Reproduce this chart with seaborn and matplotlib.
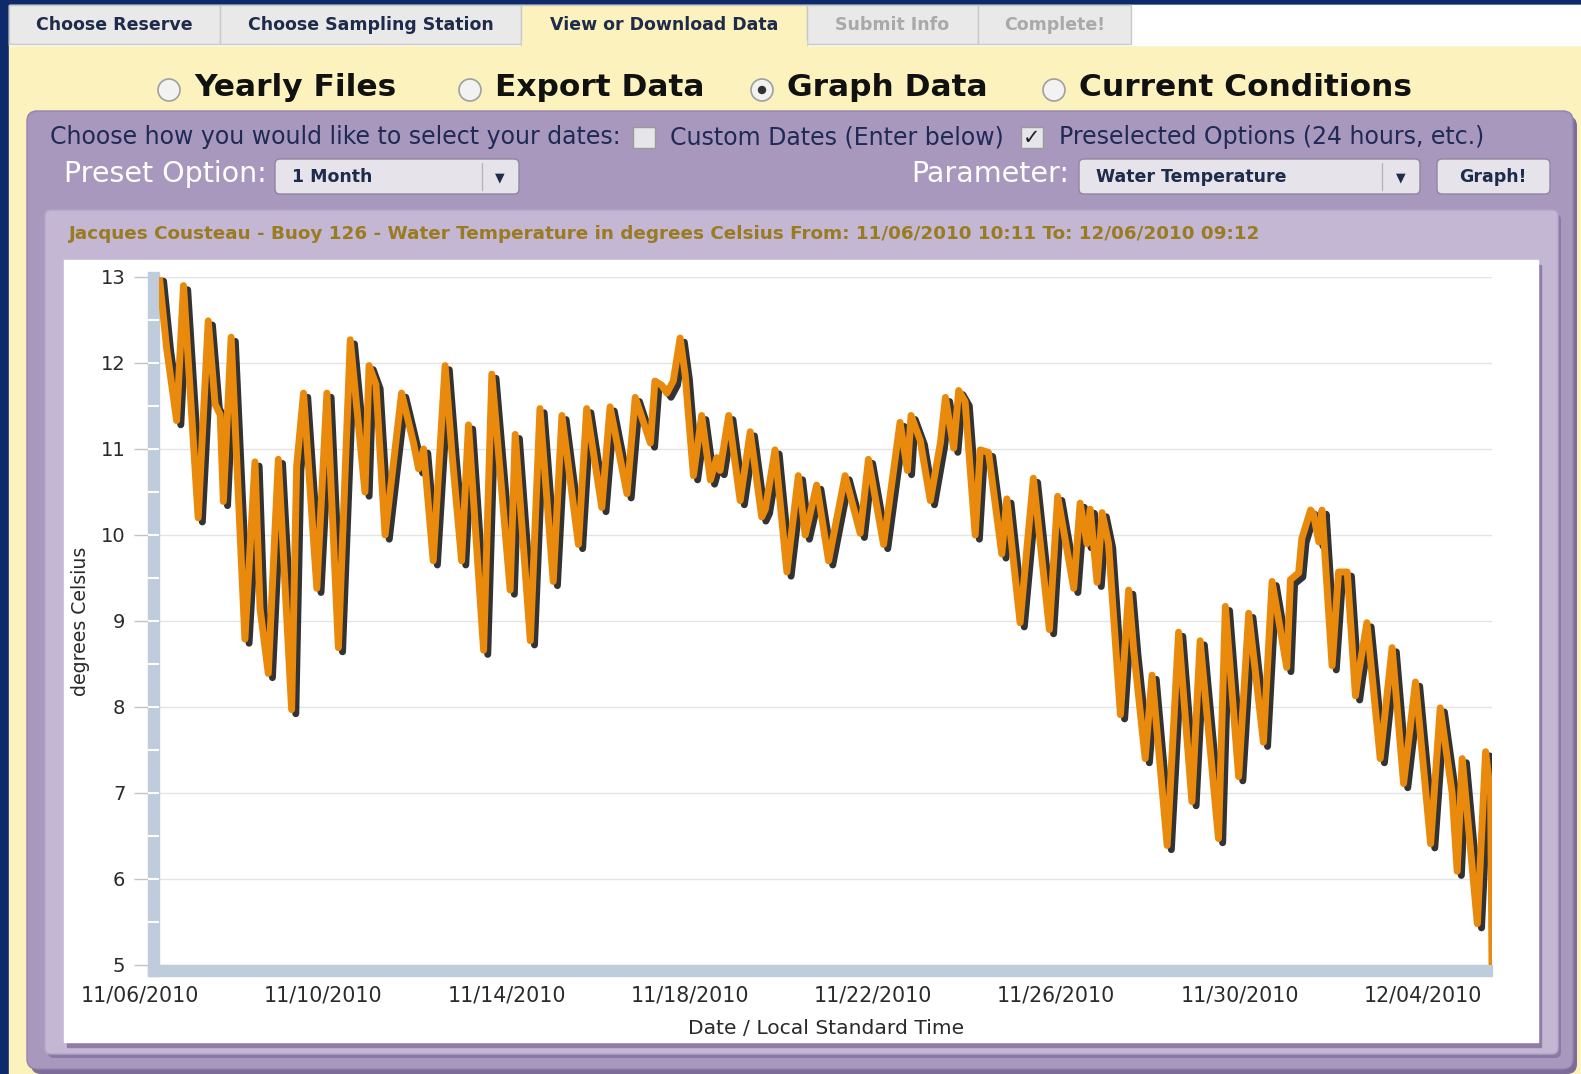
import pandas as pd
import matplotlib
matplotlib.use("Agg")
import matplotlib.pyplot as plt
import matplotlib.dates as mdates
import matplotlib.patheffects as pe
from matplotlib.patches import Rectangle, FancyBboxPatch, Circle
import seaborn as sns

# Water temperature: days after 11/06/2010 00:00, degrees C
day_offset = [
    0.424, 0.58, 0.80, 0.95, 1.27, 1.49, 1.64, 1.75, 1.82, 1.99,
    2.29, 2.51, 2.62, 2.80, 3.02, 3.31, 3.42, 3.57, 3.86, 4.08,
    4.33, 4.59, 4.91, 5.00, 5.15, 5.35, 5.71, 5.97, 6.08, 6.19,
    6.40, 6.66, 6.81, 7.02, 7.17, 7.50, 7.68, 8.08, 8.19, 8.52,
    8.73, 9.02, 9.21, 9.57, 9.75, 10.08, 10.26, 10.63, 10.81, 11.14,
    11.24, 11.39, 11.50, 11.64, 11.79, 11.90, 12.08, 12.26, 12.45, 12.59,
    12.66, 12.85, 13.10, 13.32, 13.57, 13.65, 13.86, 14.12, 14.37, 14.52,
    14.77, 15.03, 15.39, 15.72, 15.90, 16.23, 16.59, 16.75, 16.83, 17.03,
    17.25, 17.47, 17.58, 17.76, 17.87, 18.01, 18.23, 18.34, 18.52, 18.81,
    18.92, 19.21, 19.50, 19.85, 20.03, 20.38, 20.52, 20.67, 20.74, 20.89,
    21.00, 21.14, 21.40, 21.58, 21.69, 21.94, 22.09, 22.42, 22.67, 22.96,
    23.14, 23.54, 23.69, 23.98, 24.20, 24.52, 24.71, 25.03, 25.11, 25.29,
    25.36, 25.55, 25.61, 25.73, 25.80, 26.02, 26.16, 26.35, 26.53, 26.60,
    26.78, 27.07, 27.33, 27.58, 27.84, 28.17, 28.38, 28.64, 28.75, 28.86,
    29.19, 29.37, 29.48, 29.51,
]
temp_c = [
    13.00, 12.18, 11.33, 12.90, 10.20, 12.49, 11.52, 11.40, 10.39, 12.30,
    8.79, 10.85, 9.15, 8.39, 10.88, 7.97, 10.80, 11.65, 9.38, 11.65,
    8.69, 12.27, 10.50, 11.97, 11.75, 10.00, 11.65, 11.07, 10.77, 11.00,
    9.70, 11.97, 10.95, 9.70, 11.28, 8.66, 11.87, 9.36, 11.17, 8.77,
    11.47, 9.46, 11.39, 9.89, 11.47, 10.32, 11.49, 10.48, 11.60, 11.07,
    11.79, 11.74, 11.65, 11.79, 12.29, 11.86, 10.69, 11.39, 10.64, 10.90,
    10.75, 11.39, 10.40, 11.20, 10.21, 10.30, 10.99, 9.57, 10.69, 10.00,
    10.58, 9.70, 10.69, 10.02, 10.88, 9.89, 11.31, 10.75, 11.39, 11.10,
    10.40, 11.07, 11.60, 11.01, 11.68, 11.55, 10.00, 10.99, 10.96, 9.78,
    10.42, 8.98, 10.66, 8.90, 10.45, 9.38, 10.37, 9.90, 10.30, 9.45,
    10.26, 9.90, 7.91, 9.36, 8.66, 7.40, 8.37, 6.39, 8.87, 6.90,
    8.77, 6.47, 9.17, 7.19, 9.09, 7.59, 9.46, 8.46, 9.48, 9.56,
    9.96, 10.29, 10.25, 9.92, 10.29, 8.48, 9.57, 9.57, 8.13, 8.40,
    8.98, 7.40, 8.69, 7.11, 8.29, 6.41, 7.99, 7.00, 6.09, 7.40,
    5.48, 7.48, 6.98, 5.00,
]

x_tick_dates = ["2010-11-06", "2010-11-10", "2010-11-14", "2010-11-18",
                "2010-11-22", "2010-11-26", "2010-11-30", "2010-12-04"]
y_ticks = [5, 6, 7, 8, 9, 10, 11, 12, 13]

tab_labels = ["Choose Reserve", "Choose Sampling Station", "View or Download Data",
              "Submit Info", "Complete!"]
radio_labels = ["Yearly Files", "Export Data", "Graph Data", "Current Conditions"]
chart_title = ("Jacques Cousteau - Buoy 126 - Water Temperature in degrees Celsius "
               "From: 11/06/2010 10:11 To: 12/06/2010 09:12")

start = pd.Timestamp("2010-11-06 00:00")
df = pd.DataFrame({"time": start + pd.to_timedelta(day_offset, unit="D"),
                   "temp": temp_c})

sns.set_style("white")
plt.rcParams["font.family"] = ["DejaVu Sans"]

W, H = 1581, 1074
navy = "#0D2B6B"
yellow = "#FBF2BE"
dark_text = "#1E2B4A"
axis_text = "#2A2A2A"

fig = plt.figure(figsize=(W / 100, H / 100), dpi=100, facecolor=navy)

# --- page chrome drawn in pixel coordinates ---
ui = fig.add_axes([0, 0, 1, 1])
ui.set_xlim(0, W)
ui.set_ylim(H, 0)
ui.axis("off")

ui.add_patch(Rectangle((9, 5), W - 9, H - 5, color=yellow))
ui.add_patch(Rectangle((9, 5), W - 9, 40, color="white"))

tab_edges = [9, 220, 521, 807, 978, 1131]
for i, lab in enumerate(tab_labels):
    x0, x1 = tab_edges[i], tab_edges[i + 1]
    face = yellow if i == 2 else "#E9E9E9"
    ui.add_patch(Rectangle((x0, 5), x1 - x0, 40 if i == 2 else 39,
                           facecolor=face, edgecolor="#C9C9C9", lw=1))
    ui.text((x0 + x1) / 2, 25, lab, ha="center", va="center", fontsize=12.5,
            fontweight="bold", color="#A9A9A9" if i >= 3 else dark_text)
ui.add_patch(Rectangle((522, 40), 284, 8, color=yellow))

radio_x = [169, 470, 762, 1054]
for i, (cx, lab) in enumerate(zip(radio_x, radio_labels)):
    ui.add_patch(Circle((cx, 90), 11, facecolor="#F2F2F2", edgecolor="#A0A0A0", lw=1.2))
    if i == 2:
        ui.add_patch(Circle((cx, 90), 3.5, color="#333333"))
    ui.text(cx + 25, 88, lab, ha="left", va="center", fontsize=22.5,
            fontweight="bold", color="#111111")

# outer purple panel
ui.add_patch(FancyBboxPatch((31, 116), 1546, 958, boxstyle="round,pad=0,rounding_size=10",
                            facecolor="#7D6C98", edgecolor="none"))
ui.add_patch(FancyBboxPatch((27, 111), 1546, 958, boxstyle="round,pad=0,rounding_size=10",
                            facecolor="#A898BE", edgecolor="#9484AE", lw=1))

row_text = "#1F2A55"
ui.text(50, 137, "Choose how you would like to select your dates:", fontsize=17,
        color=row_text, va="center")
ui.add_patch(Rectangle((633, 127), 22, 21, facecolor="#E6E6EA", edgecolor="#9A9A9A", lw=1))
ui.text(670, 137, "Custom Dates (Enter below)", fontsize=17, color=row_text, va="center")
ui.add_patch(Rectangle((1021, 127), 22, 21, facecolor="#E6E6EA", edgecolor="#9A9A9A", lw=1))
ui.text(1032, 138, "\u2713", fontsize=15, color="#222222", ha="center", va="center")
ui.text(1059, 137, "Preselected Options (24 hours, etc.)", fontsize=17,
        color=row_text, va="center")

ui.text(267, 174, "Preset Option:", ha="right", va="center", fontsize=20.5, color="white")
ui.text(1069, 174, "Parameter:", ha="right", va="center", fontsize=20.5, color="white")

for x0, w, lab, sep in [(275, 244, "1 Month", 482), (1079, 341, "Water Temperature", 1382)]:
    ui.add_patch(FancyBboxPatch((x0, 159), w, 35, boxstyle="round,pad=0,rounding_size=5",
                                facecolor="#E6E4EA", edgecolor="#8F86A0", lw=1))
    ui.plot([sep, sep], [163, 190], color="#B8B2C2", lw=1)
    ui.text(x0 + 17, 177, lab, fontsize=12.5, fontweight="bold", color=dark_text, va="center")
    ui.text(x0 + w - 19, 178, "\u25BC", fontsize=9, color=dark_text, ha="center", va="center")

ui.add_patch(FancyBboxPatch((1437, 159), 113, 35, boxstyle="round,pad=0,rounding_size=5",
                            facecolor="#E6E4EA", edgecolor="#8F86A0", lw=1))
ui.text(1493, 177, "Graph!", fontsize=12.5, fontweight="bold", color=dark_text,
        ha="center", va="center")

# inner panel with the chart
ui.add_patch(FancyBboxPatch((48, 214), 1513, 844, boxstyle="round,pad=0,rounding_size=6",
                            facecolor="#8A7AA3", edgecolor="none"))
ui.add_patch(FancyBboxPatch((45, 210), 1513, 844, boxstyle="round,pad=0,rounding_size=6",
                            facecolor="#C4B7D4", edgecolor="#B3A5C6", lw=1))
ui.text(68, 234, chart_title, fontsize=13.2, fontweight="bold", color="#9A7B22", va="center")
ui.add_patch(Rectangle((67, 265), 1474, 782, color="#8E7EA6"))
ui.add_patch(Rectangle((64, 260), 1474, 782, color="white"))

# --- the time series ---
ax = fig.add_axes([159.4 / W, 1 - 965 / H, (1492 - 159.4) / W, (965 - 277) / H])
ax.set_facecolor("white")

sns.lineplot(data=df, x="time", y="temp", ax=ax, color="#E98A0C", linewidth=5,
             estimator=None, zorder=5, solid_joinstyle="round", solid_capstyle="round",
             path_effects=[pe.SimpleLineShadow(offset=(3, -3), shadow_color="black", alpha=0.8),
                           pe.Normal()])

tick_dt = pd.to_datetime(x_tick_dates)
date_fmt = mdates.DateFormatter("%m/%d/%Y")
ax.set_xticks(tick_dt)
ax.xaxis.set_major_formatter(date_fmt)
ax.set_xlim(df["time"].iloc[0], df["time"].iloc[-1])
ax.set_ylim(5, 13)
ax.set_yticks(y_ticks)
ax.grid(axis="y", color="#E4E4E4", lw=1)
ax.grid(axis="x", visible=False)
for s in ax.spines.values():
    s.set_visible(False)
ax.spines["left"].set_position(("outward", 8))

ax.tick_params(axis="y", left=True, length=10, width=1, color="#BCC4CE", pad=6.5,
               labelsize=14, labelcolor=axis_text)
ax.tick_params(axis="x", bottom=True, length=0, pad=15, labelsize=14.8, labelcolor=axis_text)

# first date label sits left of the data start, outside the view limits
for t in tick_dt[tick_dt < df["time"].iloc[0]]:
    tn = mdates.date2num(t)
    ax.annotate(date_fmt(tn), xy=(tn, 0), xycoords=ax.get_xaxis_transform(),
                xytext=(0, -15), textcoords="offset points", ha="center", va="top",
                fontsize=14.8, color=axis_text, annotation_clip=False)

band = "#BECCDC"
ax.add_patch(Rectangle((-0.0083, -0.016), 0.0083, 1.023, transform=ax.transAxes,
                       color=band, clip_on=False, zorder=3))
ax.add_patch(Rectangle((-0.0083, -0.016), 1.0083, 0.016, transform=ax.transAxes,
                       color=band, clip_on=False, zorder=3))
half_steps = [v + 0.5 for v in y_ticks[:-1]] + y_ticks[1:-1]
ax.hlines(half_steps, -0.0083, 0, transform=ax.get_yaxis_transform(), colors="white",
          lw=1.5, clip_on=False, zorder=4)

ax.set_xlabel("Date / Local Standard Time", fontsize=14.6, color=axis_text)
ax.xaxis.set_label_coords(0.5, -0.078)
ax.set_ylabel("degrees Celsius", fontsize=13.6, color=axis_text)
ax.yaxis.set_label_coords(-0.052, 0.5)

fig.savefig("out.png", dpi=100, facecolor=fig.get_facecolor())
